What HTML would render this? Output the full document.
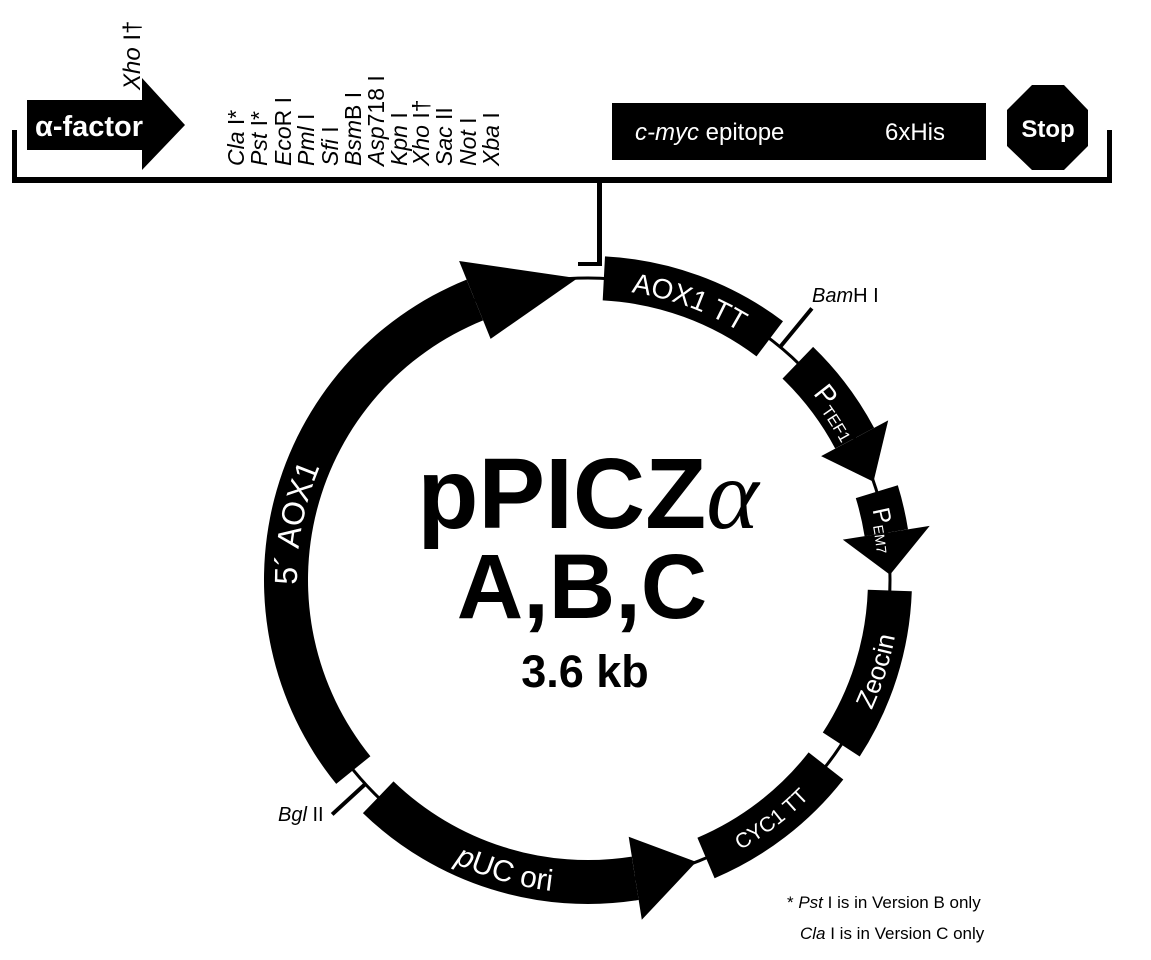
<!DOCTYPE html>
<html><head><meta charset="utf-8"><style>
html,body{margin:0;padding:0;background:#fff;}
svg{display:block;font-family:"Liberation Sans",Arial,sans-serif;}
</style></head><body>
<svg id="s" width="1151" height="960" viewBox="0 0 1151 960" xmlns="http://www.w3.org/2000/svg">
<rect x="12" y="130" width="5" height="53" fill="#000"/>
<rect x="12" y="177" width="1100" height="6" fill="#000"/>
<rect x="1107" y="130" width="5" height="53" fill="#000"/>
<rect x="597" y="180" width="5" height="86" fill="#000"/>
<rect x="578" y="262" width="24" height="4" fill="#000"/>
<polygon points="27,100 142,100 142,78 185,125 142,170 142,150 27,150" fill="#000"/>
<text x="35" y="136" fill="#fff" font-size="29" font-weight="bold">α-factor</text>
<text transform="translate(140,90) rotate(-90)" font-size="24" font-style="italic">Xho <tspan font-style="normal">I†</tspan></text>
<g font-size="23">
<text transform="translate(244,166) rotate(-90)"><tspan font-style="italic">Cla</tspan> I*</text>
<text transform="translate(267,166) rotate(-90)"><tspan font-style="italic">Pst</tspan> I*</text>
<text transform="translate(291,166) rotate(-90)"><tspan font-style="italic">Eco</tspan>R I</text>
<text transform="translate(314,166) rotate(-90)"><tspan font-style="italic">Pml</tspan> I</text>
<text transform="translate(338,166) rotate(-90)"><tspan font-style="italic">Sfi</tspan> I</text>
<text transform="translate(361,166) rotate(-90)"><tspan font-style="italic">Bsm</tspan>B I</text>
<text transform="translate(384,166) rotate(-90)"><tspan font-style="italic">Asp</tspan>718 I</text>
<text transform="translate(407,166) rotate(-90)"><tspan font-style="italic">Kpn</tspan> I</text>
<text transform="translate(429,166) rotate(-90)"><tspan font-style="italic">Xho</tspan> I†</text>
<text transform="translate(452,166) rotate(-90)"><tspan font-style="italic">Sac</tspan> II</text>
<text transform="translate(476,166) rotate(-90)"><tspan font-style="italic">Not</tspan> I</text>
<text transform="translate(499,166) rotate(-90)"><tspan font-style="italic">Xba</tspan> I</text>
</g>
<rect x="612" y="103" width="374" height="57" fill="#000"/>
<text x="635" y="140" fill="#fff" font-size="24"><tspan font-style="italic">c-myc</tspan> epitope</text>
<text x="885" y="140" fill="#fff" font-size="24">6xHis</text>
<polygon points="1032,85 1064,85 1088,110 1088,146 1064,170 1032,170 1007,146 1007,110" fill="#000"/>
<text x="1048" y="137" fill="#fff" font-size="24" font-weight="bold" text-anchor="middle">Stop</text>
<text x="588" y="528" font-size="100" font-weight="bold" text-anchor="middle">pPICZ<tspan font-weight="normal" font-family="Liberation Serif" font-style="italic">α</tspan></text>
<text x="582" y="618" font-size="92" font-weight="bold" text-anchor="middle">A,B,C</text>
<text x="585" y="687" font-size="45" font-weight="bold" text-anchor="middle">3.6 kb</text>
<text x="812" y="302" font-size="20"><tspan font-style="italic">Bam</tspan>H I</text>
<text x="278" y="821" font-size="20"><tspan font-style="italic">Bgl</tspan> II</text>
<text x="787" y="908" font-size="17">* <tspan font-style="italic">Pst</tspan> I is in Version B only</text>
<text x="800" y="939" font-size="17"><tspan font-style="italic">Cla</tspan> I is in Version C only</text>
<g id="ring"></g>
</svg>
<script>
var cx=588,cy=580,R=302,hw=22,NS="http://www.w3.org/2000/svg";
var g=document.getElementById('ring');
function P(r,a){a=a*Math.PI/180;return [cx+r*Math.sin(a),cy-r*Math.cos(a)];}
function f(p){return p[0].toFixed(1)+","+p[1].toFixed(1);}
function add(tag,attrs,txt){var e=document.createElementNS(NS,tag);for(var k in attrs)e.setAttribute(k,attrs[k]);if(txt)e.textContent=txt;g.appendChild(e);return e;}
function band(a1,a2){var ro=R+hw,ri=R-hw,l=(a2-a1)>180?1:0;
 return "M"+f(P(ro,a1))+" A"+ro+","+ro+" 0 "+l+" 1 "+f(P(ro,a2))+" L"+f(P(ri,a2))+" A"+ri+","+ri+" 0 "+l+" 0 "+f(P(ri,a1))+"Z";}
function arrowCW(a1,a2,h,w){var b=a2-h;add('path',{d:band(a1,b),fill:'#000'});
 add('path',{d:"M"+f(P(R+w,b))+" L"+f(P(R,a2))+" L"+f(P(R-w,b))+"Z",fill:'#000'});}
function arrowCCW(a1,a2,h,w){var b=a2+h;add('path',{d:band(b,a1),fill:'#000'});
 add('path',{d:"M"+f(P(R+w,b))+" L"+f(P(R,a2))+" L"+f(P(R-w,b))+"Z",fill:'#000'});}
add('circle',{cx:cx,cy:cy,r:R,fill:'none',stroke:'#000','stroke-width':3});
add('path',{d:band(3,37),fill:'#000'});
arrowCW(44,71,9,38);
arrowCW(73,89,8,44);
add('path',{d:band(92,123),fill:'#000'});
add('path',{d:band(128,157),fill:'#000'});
arrowCCW(224,159,12,42);
arrowCW(231,358,20,42);
function tick(a,len){var p=P(R,a),q=P(R+len,a);add('line',{x1:p[0],y1:p[1],x2:q[0],y2:q[1],stroke:'#000','stroke-width':4});}
tick(39.5,50);tick(227.5,45);
var defs=document.createElementNS(NS,'defs');g.appendChild(defs);
function tp(id,a1,a2,cw,txt,size,r){var rr=r;var d;
 if(cw){d="M"+f(P(rr,a1))+" A"+rr+","+rr+" 0 0 1 "+f(P(rr,a2));}
 else{d="M"+f(P(rr,a2))+" A"+rr+","+rr+" 0 0 0 "+f(P(rr,a1));}
 var p=document.createElementNS(NS,'path');p.setAttribute('id',id);p.setAttribute('d',d);defs.appendChild(p);
 var t=document.createElementNS(NS,'text');t.setAttribute('fill','#fff');t.setAttribute('font-size',size);
 var q=document.createElementNS(NS,'textPath');q.setAttribute('href','#'+id);q.setAttribute('startOffset','50%');q.setAttribute('text-anchor','middle');q.innerHTML=txt;t.appendChild(q);g.appendChild(t);}
tp('t1',3,37,true,'AOX1 TT',28,R-11);
tp('t2',44,68,true,'P<tspan font-size="16" dy="4">TEF1</tspan>',28,R-10);
tp('t3',73,88,true,'P<tspan font-size="14" dy="3">EM7</tspan>',24,R-9);
tp('t4',92,123,false,'Zeocin',26,R+10);
tp('t5',128,157,false,'CYC1 TT',21,R+8);
tp('t6',168,224,false,'<tspan font-style="italic">p</tspan>UC ori',30,R+11);
tp('t7',232,330,true,'5\u00b4 AOX1',32,R-11);
</script>
</body></html>
